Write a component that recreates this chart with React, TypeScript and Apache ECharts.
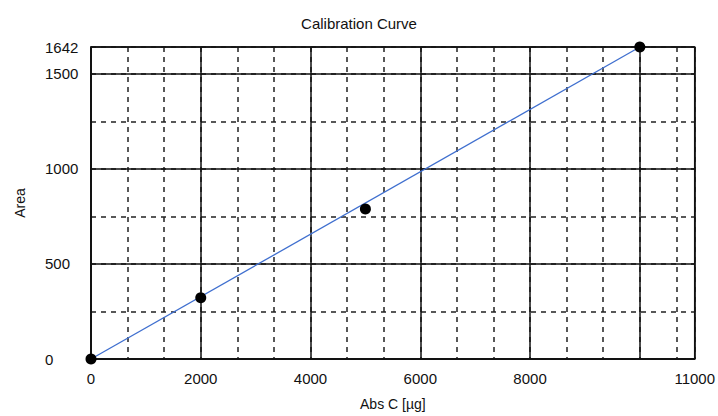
import React, { useEffect, useRef } from "react";
import * as echarts from "echarts";

const chartTitle = "Calibration Curve";
const xAxisName = "Abs C [µg]";
const yAxisName = "Area";
const concentrations = [0, 2000, 5000, 10000];
const areas = [0, 322, 790, 1642];
const fitX = [0, 10000];
const fitY = [0, 1642];
const xMin = 0;
const xMax = 11000;
const xMajor = 2000;
const xMinor = 2000 / 3;
const yMin = 0;
const yMax = 1642;
const yMajor = 500;
const yMinor = 250;
const hiddenXLabels = [10000];

const FONT = "'Liberation Sans', Arial, sans-serif";

export default function App() {
  const ref = useRef<HTMLDivElement>(null);
  useEffect(() => {
    if (!ref.current) return;
    const chart = echarts.init(ref.current, null, { renderer: "svg" });
    const solid = { color: "#111", width: 1.5, type: "solid" as const };
    const dashed = { color: "#222", width: 1.5, type: [5, 5] as any };
    chart.setOption({
      animation: false,
      backgroundColor: "#fff",
      title: {
        text: chartTitle,
        left: "center",
        top: 11,
        textStyle: { fontFamily: FONT, fontSize: 15, fontWeight: "normal", color: "#111" },
      },
      grid: {
        left: 91,
        right: 22,
        top: 47,
        bottom: 55,
        show: true,
        borderColor: "#111",
        borderWidth: 1.5,
        backgroundColor: "transparent",
      },
      xAxis: [
        {
          type: "value",
          min: xMin,
          max: xMax,
          interval: xMajor,
          z: 2,
          name: xAxisName,
          nameLocation: "middle",
          nameGap: 38,
          nameTextStyle: { fontFamily: FONT, fontSize: 14, color: "#111" },
          axisLine: { show: true, onZero: false, lineStyle: { color: "#111", width: 1.5 } },
          axisTick: { show: false },
          axisLabel: {
            margin: 12,
            fontFamily: FONT,
            fontSize: 15,
            color: "#111",
            showMaxLabel: true,
            formatter: (v: number) => (hiddenXLabels.includes(v) ? "" : String(v)),
          },
          splitLine: { show: true, lineStyle: solid },
        },
        {
          type: "value",
          min: xMin,
          max: xMax,
          interval: xMinor,
          z: 1,
          position: "bottom",
          axisLine: { show: false },
          axisTick: { show: false },
          axisLabel: { show: false },
          splitLine: { show: true, lineStyle: dashed },
        },
      ],
      yAxis: [
        {
          type: "value",
          min: yMin,
          max: yMax,
          interval: yMajor,
          z: 2,
          name: yAxisName,
          nameLocation: "middle",
          nameGap: 64,
          nameTextStyle: { fontFamily: FONT, fontSize: 14, color: "#111" },
          axisLine: { show: true, onZero: false, lineStyle: { color: "#111", width: 1.5 } },
          axisTick: { show: false },
          axisLabel: {
            margin: 46,
            align: "left",
            fontFamily: FONT,
            fontSize: 15,
            color: "#111",
            showMaxLabel: true,
            formatter: (v: number) => String(v),
          },
          splitLine: { show: true, lineStyle: solid },
        },
        {
          type: "value",
          min: yMin,
          max: yMax,
          interval: yMinor,
          z: 1,
          position: "left",
          axisLine: { show: false },
          axisTick: { show: false },
          axisLabel: { show: false },
          splitLine: { show: true, lineStyle: dashed },
        },
      ],
      series: [
        {
          type: "line",
          xAxisIndex: 0,
          yAxisIndex: 0,
          data: fitX.map((x, i) => [x, fitY[i]]),
          showSymbol: false,
          symbol: "none",
          lineStyle: { color: "#3f6fcf", width: 1.3 },
          z: 3,
        },
        {
          type: "scatter",
          xAxisIndex: 0,
          yAxisIndex: 0,
          data: concentrations.map((x, i) => [x, areas[i]]),
          symbol: "circle",
          symbolSize: 11,
          itemStyle: { color: "#000", opacity: 1 },
          z: 4,
        },
      ],
    });
    return () => chart.dispose();
  }, []);
  return (
    <div
      ref={ref}
      style={{ position: "fixed", left: 0, top: 0, width: 718, height: 416, background: "#fff" }}
    />
  );
}
